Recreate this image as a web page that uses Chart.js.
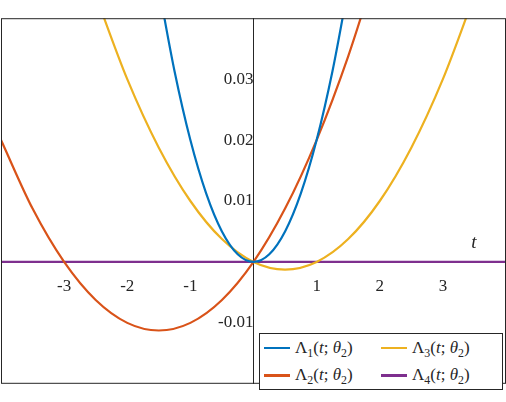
<!DOCTYPE html>
<html lang="en">
  <head>
    <meta charset="UTF-8" />
    <title>Lambda curves</title>
    <script src="https://cdn.jsdelivr.net/npm/chart.js"></script>
    <style>
      body { margin: 0; background: #fff; }
      #wrap { position: relative; width: 506px; height: 402px; }
      #legend {
        position: absolute; left: 259px; top: 333px; width: 244px; height: 57px;
        border: 1px solid #262626; background: #fff;
        font-family: "Liberation Serif", serif; font-size: 17px; color: #262626;
        display: grid; grid-template-columns: 1fr 1fr; align-items: center;
        padding: 0 4px; box-sizing: border-box;
      }
      #legend .item { display: flex; align-items: center; white-space: nowrap; }
      #legend i.line { display: inline-block; width: 26px; height: 2.5px; margin-right: 5px; }
      #legend sub { vertical-align: -4px; font-size: 70%; line-height: 0; }
    </style>
  </head>
  <body>
    <div id="wrap">
      <canvas id="chart" width="506" height="402"></canvas>
      <div id="legend"></div>
    </div>
    <script>
      // values
      var t1 = [-1.5, -1.25, -1, -0.75, -0.5, -0.25, 0, 0.25, 0.5, 0.75, 1, 1.25, 1.5];
      var lambda1 = [0.045, 0.03125, 0.02, 0.01125, 0.005, 0.00125, 0, 0.00125, 0.005, 0.01125, 0.02, 0.03125, 0.045];
      var t2 = [-4, -3.5, -3, -2.5, -2, -1.5, -1, -0.5, 0, 0.5, 1, 1.5, 2];
      var lambda2 = [0.02, 0.00875, 0, -0.00625, -0.01, -0.01125, -0.01, -0.00625, 0, 0.00875, 0.02, 0.03375, 0.05];
      var t3 = [-2.5, -2, -1.5, -1, -0.5, 0, 0.5, 1, 1.5, 2, 2.5, 3, 3.5];
      var lambda3 = [0.04375, 0.03, 0.01875, 0.01, 0.00375, 0, -0.00125, 0, 0.00375, 0.01, 0.01875, 0.03, 0.04375];
      var t4 = [-4, 4];
      var lambda4 = [0, 0];
      var xTicks = [-3, -2, -1, 1, 2, 3];
      var yTicks = [-0.01, 0.01, 0.02, 0.03];

      var names = ["Λ<sub>1</sub>(<i>t</i>; <i>θ</i><sub>2</sub>)", "Λ<sub>3</sub>(<i>t</i>; <i>θ</i><sub>2</sub>)",
                   "Λ<sub>2</sub>(<i>t</i>; <i>θ</i><sub>2</sub>)", "Λ<sub>4</sub>(<i>t</i>; <i>θ</i><sub>2</sub>)"];
      var colors = ["#0072BD", "#EDB120", "#D95319", "#7E2F8E"];

      function pts(xs, ys) {
        return xs.map(function (x, i) { return { x: x, y: ys[i] }; });
      }
      function ds(xs, ys, c) {
        return { data: pts(xs, ys), borderColor: c, borderWidth: 2.2, pointRadius: 0,
                 showLine: true, cubicInterpolationMode: "monotone", fill: false };
      }

      var ink = "#262626";
      var font = { family: "Liberation Serif", size: 17 };

      var extras = {
        id: "extras",
        afterDraw: function (chart) {
          var ctx = chart.ctx, a = chart.chartArea;
          ctx.save();
          ctx.strokeStyle = ink; ctx.lineWidth = 1;
          ctx.strokeRect(a.left + 0.5, a.top + 0.5, a.right - a.left - 1, a.bottom - a.top - 1);
          ctx.fillStyle = ink;
          ctx.font = "italic 19px 'Liberation Serif'";
          ctx.fillText("t", chart.scales.x.getPixelForValue(3.45), chart.scales.y.getPixelForValue(0) - 14);
          ctx.restore();
        }
      };

      new Chart(document.getElementById("chart"), {
        type: "scatter",
        data: {
          datasets: [
            ds(t1, lambda1, colors[0]),
            ds(t2, lambda2, colors[2]),
            ds(t3, lambda3, colors[1]),
            ds(t4, lambda4, colors[3]),
          ],
        },
        options: {
          responsive: false,
          animation: false,
          layout: { padding: { left: 1, right: -4, top: 2, bottom: -11 } },
          plugins: { legend: { display: false }, tooltip: { enabled: false } },
          scales: {
            x: {
              type: "linear", min: -4, max: 4, position: { y: 0 },
              afterBuildTicks: function (ax) { ax.ticks = xTicks.map(function (v) { return { value: v }; }); },
              ticks: { color: ink, font: font, padding: 6 },
              grid: { display: false },
              border: { color: ink },
            },
            y: {
              type: "linear", min: -0.02, max: 0.04, position: { x: 0 },
              afterBuildTicks: function (ax) { ax.ticks = yTicks.map(function (v) { return { value: v }; }); },
              ticks: { color: ink, font: font, padding: 8, callback: function (v) { return String(+v.toFixed(2)); } },
              grid: { display: false },
              border: { color: ink },
            },
          },
        },
        plugins: [extras],
      });

      var leg = document.getElementById("legend");
      names.forEach(function (n, i) {
        var s = document.createElement("div");
        s.className = "item";
        s.innerHTML = '<i class="line" style="background:' + colors[i] + '"></i><span>' + n + "</span>";
        leg.appendChild(s);
      });
    </script>
  </body>
</html>
